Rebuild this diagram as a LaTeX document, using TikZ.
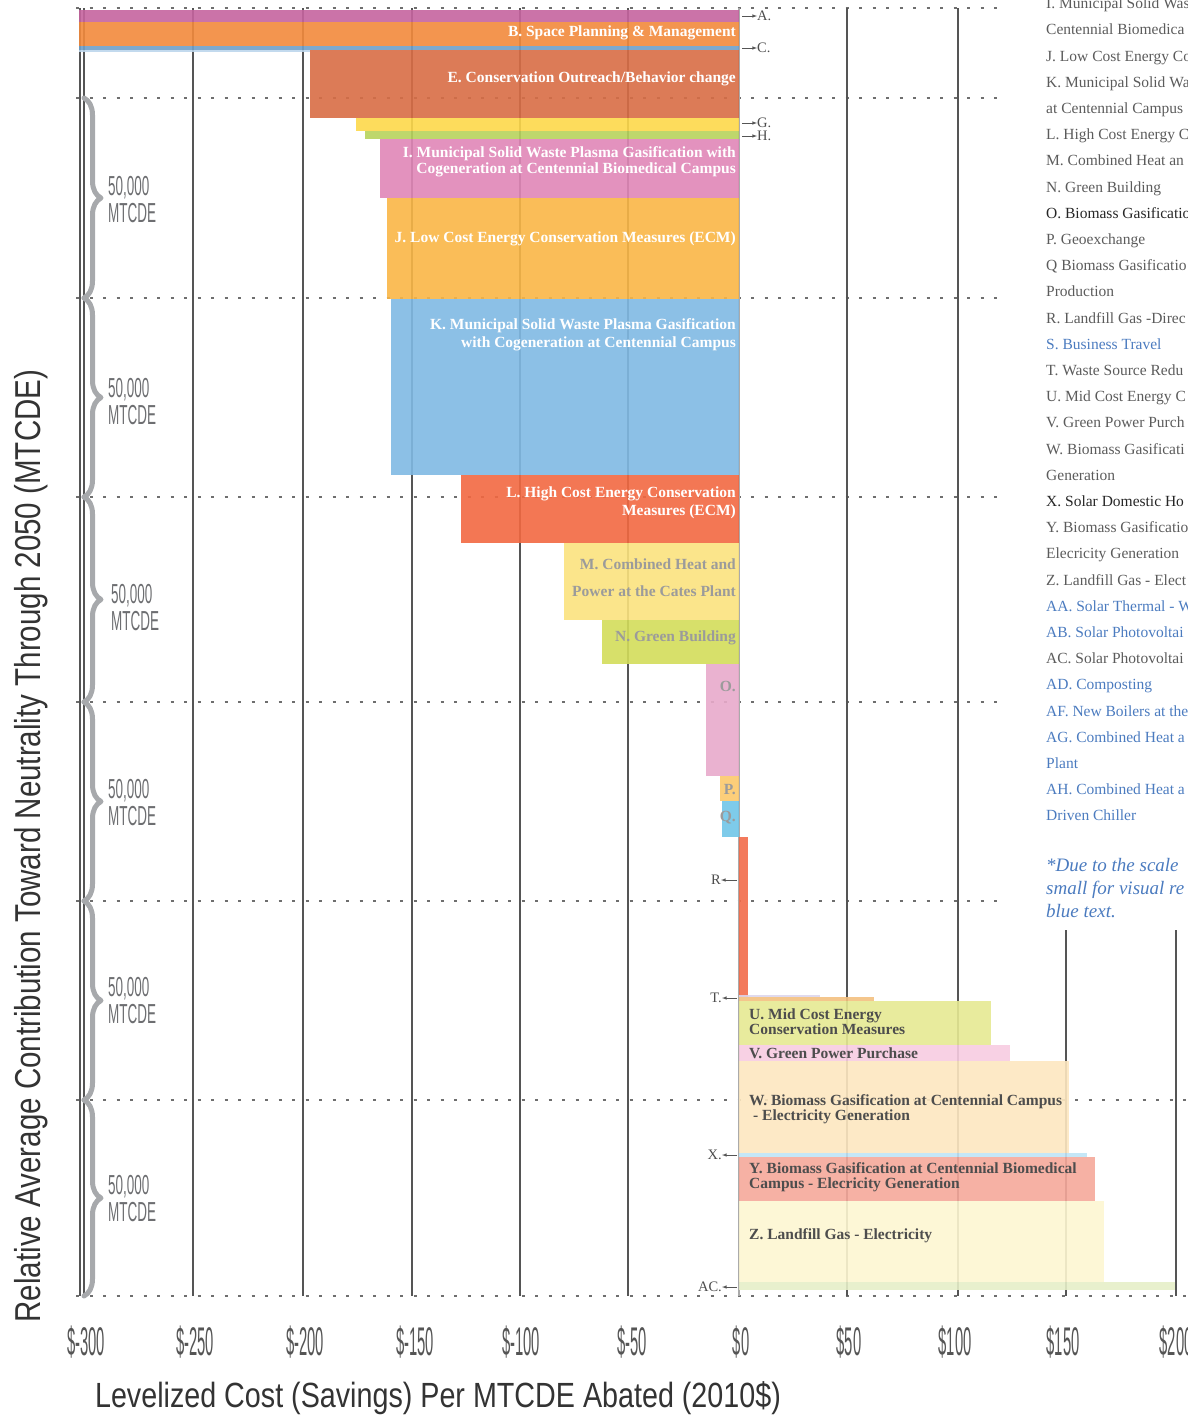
\documentclass[tikz,border=0pt]{standalone}
\usepackage{fontspec}
\usepackage{tikz}
\usetikzlibrary{decorations.pathreplacing}
\setmainfont{Liberation Serif}
\newfontfamily\etroite[FakeStretch=0.37]{Liberation Sans}
\newfontfamily\demietroite[FakeStretch=0.49]{Liberation Sans}
\newfontfamily\titrefont[FakeStretch=0.82]{Liberation Sans}

\definecolor{coulA}{HTML}{C5649F}
\definecolor{coulB}{HTML}{F28A3C}
\definecolor{coulC}{HTML}{6FA0C9}
\definecolor{coulD}{HTML}{BCD6EC}
\definecolor{coulE}{HTML}{D86D45}
\definecolor{coulG}{HTML}{FDD84A}
\definecolor{coulH}{HTML}{B7D35C}
\definecolor{coulI}{HTML}{E086B7}
\definecolor{coulJ}{HTML}{F9B646}
\definecolor{coulK}{HTML}{80B9E3}
\definecolor{coulL}{HTML}{F26841}
\definecolor{coulM}{HTML}{FBE27E}
\definecolor{coulN}{HTML}{D3DD5A}
\definecolor{coulO}{HTML}{E8AACB}
\definecolor{coulP}{HTML}{FCC96C}
\definecolor{coulQ}{HTML}{70C5E8}
\definecolor{coulR}{HTML}{F26C4A}
\definecolor{coulS}{HTML}{DDD6EC}
\definecolor{coulT}{HTML}{F3C07F}
\definecolor{coulU}{HTML}{E6E992}
\definecolor{coulV}{HTML}{F7CCE1}
\definecolor{coulW}{HTML}{FDE7C0}
\definecolor{coulX}{HTML}{BFE4F6}
\definecolor{coulY}{HTML}{F5A89A}
\definecolor{coulZ}{HTML}{FDF6D1}
\definecolor{coulAC}{HTML}{E6EEC8}
\definecolor{gris}{HTML}{555555}
\definecolor{grispale}{HTML}{9B9B9B}
\definecolor{grisfonce}{HTML}{4D4D4D}
\definecolor{grislegende}{HTML}{5B5B5B}
\definecolor{grisaccol}{HTML}{A7A9AC}
\definecolor{grisquant}{HTML}{6D6E71}
\definecolor{bleu}{HTML}{4B7BBF}
\definecolor{titre}{HTML}{333333}

\begin{document}
\begin{tikzpicture}[x=1pt, y=-1pt]
			\tikzset{barre/.style={fill opacity=0.9},
				grille/.style={draw=gris, line width=2pt},
				pointille/.style={draw=gris!85, line width=1.6pt, dash pattern=on 3pt off 10.5pt},
				accolade/.style={draw=grisaccol, line width=5pt, line cap=round, line join=round, decorate, decoration={brace, amplitude=17pt}},
				fleche/.style={>=latex, ->, draw=gris, line width=0.6pt},
				blanc/.style={font=\bfseries\fontsize{15.5}{16}\selectfont, text=white, anchor=east, align=right, inner sep=0pt},
				pale/.style={blanc, text=grispale},
				sombre/.style={font=\bfseries\fontsize{15.5}{15}\selectfont, text=grisfonce, anchor=west, align=left, inner sep=0pt},
				renvoi/.style={font=\fontsize{14.5}{15}\selectfont, text=grisfonce, inner sep=0pt},
				legende/.style={font=\fontsize{15.5}{16}\selectfont, text=grislegende, anchor=base west, inner sep=0pt},
				bleue/.style={legende, text=bleu},
				noire/.style={legende, text=black!85},
				note/.style={font=\itshape\fontsize{19}{19}\selectfont, text=bleu, anchor=base west, inner sep=0pt},
				graduation/.style={font=\etroite\fontsize{40}{40}\selectfont, text=gris, anchor=base, inner sep=0pt},
				quantite/.style={font=\demietroite\fontsize{27.5}{27}\selectfont, text=grisquant, anchor=west, align=left, inner sep=0pt}}

			\useasboundingbox (0,0) rectangle (1187,1416);

			\draw[pointille] (76,   8) -- (1005,   8);
			\draw[pointille] (76,  98) -- (1005,  98);
			\draw[pointille] (76, 298) -- (1005, 298);
			\draw[pointille] (76, 497) -- (1005, 497);
			\draw[pointille] (76, 702) -- (1005, 702);
			\draw[pointille] (76, 901) -- (1005, 901);
			\draw[pointille] (76,1100) -- (1187,1100);
			\draw[pointille] (76,1296) -- (1187,1296);

			\draw[grille] ( 193,   8) -- ( 193,1296);
			\draw[grille] ( 303,   8) -- ( 303,1296);
			\draw[grille] ( 412,   8) -- ( 412,1296);
			\draw[grille] ( 520,   8) -- ( 520,1296);
			\draw[grille] ( 628,   8) -- ( 628,1296);
			\draw[grille] ( 847,   8) -- ( 847,1296);
			\draw[grille] ( 958,   8) -- ( 958,1296);
			\draw[grille] (1066, 930) -- (1066,1296);
			\draw[grille] (1176, 930) -- (1176,1296);
			\draw[grille, draw=gris!50] (739, 8) -- (739,1296);
			\draw[grille, line width=1.5pt] (80, 8) -- (80,1296);
			\draw[grille, line width=1.5pt] (84, 8) -- (84,1296);

			\fill[barre, fill=coulA]  ( 79,  10) rectangle ( 739,  22);
			\fill[barre, fill=coulB]  ( 79,  22) rectangle ( 739,  46);
			\fill[barre, fill=coulC]  ( 79,  46) rectangle ( 739,  50);
			\fill[barre, fill=coulD]  ( 79,  50) rectangle ( 310,  52);
			\fill[barre, fill=coulE]  (310,  50) rectangle ( 739, 118);
			\fill[barre, fill=coulG]  (356, 118) rectangle ( 739, 131);
			\fill[barre, fill=coulH]  (365, 131) rectangle ( 739, 139);
			\fill[barre, fill=coulI]  (380, 139) rectangle ( 739, 198);
			\fill[barre, fill=coulJ]  (387, 198) rectangle ( 739, 299);
			\fill[barre, fill=coulK]  (391, 299) rectangle ( 739, 475);
			\fill[barre, fill=coulL]  (461, 475) rectangle ( 739, 543);
			\fill[barre, fill=coulM]  (564, 543) rectangle ( 739, 620);
			\fill[barre, fill=coulN]  (602, 620) rectangle ( 739, 664);
			\fill[barre, fill=coulO]  (706, 664) rectangle ( 739, 776);
			\fill[barre, fill=coulP]  (720, 776) rectangle ( 739, 801);
			\fill[barre, fill=coulQ]  (722, 801) rectangle ( 739, 837);
			\fill[barre, fill=coulR]  (739, 837) rectangle ( 748, 997);
			\fill[barre, fill=coulS]  (739, 995) rectangle ( 820, 997);
			\fill[barre, fill=coulT]  (739, 997) rectangle ( 874,1001);
			\fill[barre, fill=coulU]  (739,1001) rectangle ( 991,1045);
			\fill[barre, fill=coulV]  (739,1045) rectangle (1010,1061);
			\fill[barre, fill=coulW]  (739,1061) rectangle (1069,1153);
			\fill[barre, fill=coulX]  (739,1153) rectangle (1087,1157);
			\fill[barre, fill=coulY]  (739,1157) rectangle (1095,1201);
			\fill[barre, fill=coulZ]  (739,1201) rectangle (1104,1282);
			\fill[barre, fill=coulAC] (739,1282) rectangle (1175,1290);

			\node[blanc]  (eB) at (736,  33) {B. Space Planning \& Management};
			\node[blanc]  (eE) at (736,  79) {E. Conservation Outreach/Behavior change};
			\node[blanc]  (eI) at (736, 162) {I. Municipal Solid Waste Plasma Gasification with\\Cogeneration at Centennial Biomedical Campus};
			\node[blanc]  (eJ) at (736, 239) {J. Low Cost Energy Conservation Measures (ECM)};
			\node[blanc]  (eK) at (736, 335) {K. Municipal Solid Waste Plasma Gasification\\[2pt]with Cogeneration at Centennial Campus};
			\node[blanc]  (eL) at (736, 503) {L. High Cost Energy Conservation\\[2pt]Measures (ECM)};
			\node[pale]   (eM) at (736, 578) {M. Combined Heat and\\[11pt]Power at the Cates Plant};
			\node[pale]   (eN) at (736, 638) {N. Green Building};
			\node[pale]   (eO) at (736, 686) {O.};
			\node[pale]   (eP) at (736, 790) {P.};
			\node[pale]   (eQ) at (736, 818) {Q.};
			\node[sombre] (eU) at (749,1022) {U. Mid Cost Energy\\Conservation Measures};
			\node[sombre] (eV) at (749,1053) {V. Green Power Purchase};
			\node[sombre] (eW) at (749,1109) {W. Biomass Gasification at Centennial Campus\\\hspace*{4pt}- Electricity Generation};
			\node[sombre] (eY) at (749,1177) {Y. Biomass Gasification at Centennial Biomedical\\Campus - Elecricity Generation};
			\node[sombre] (eZ) at (749,1236) {Z. Landfill Gas - Electricity};

			\coordinate (bA)  at (742,  16);
			\coordinate (bC)  at (742,  48);
			\coordinate (bG)  at (742, 123);
			\coordinate (bH)  at (742, 136);
			\coordinate (bR)  at (737, 880);
			\coordinate (bT)  at (737, 998);
			\coordinate (bX)  at (737,1155);
			\coordinate (bAC) at (737,1287);
			\node[renvoi, anchor=west] (rA)  at (757,  16) {A.};
			\node[renvoi, anchor=west] (rC)  at (757,  48) {C.};
			\node[renvoi, anchor=west] (rG)  at (757, 123) {G.};
			\node[renvoi, anchor=west] (rH)  at (757, 136) {H.};
			\node[renvoi, anchor=east] (rR)  at (721, 880) {R};
			\node[renvoi, anchor=east] (rT)  at (722, 998) {T.};
			\node[renvoi, anchor=east] (rX)  at (722,1155) {X.};
			\node[renvoi, anchor=east] (rAC) at (722,1287) {AC.};
			\draw[fleche] (bA)  -- (rA);
			\draw[fleche] (bC)  -- (rC);
			\draw[fleche] (bG)  -- (rG);
			\draw[fleche] (bH)  -- (rH);
			\draw[fleche] (bR)  -- (rR);
			\draw[fleche] (bT)  -- (rT);
			\draw[fleche] (bX)  -- (rX);
			\draw[fleche] (bAC) -- (rAC);

			\draw[accolade] (84,  98) -- (84, 298);
			\draw[accolade] (84, 298) -- (84, 497);
			\draw[accolade] (84, 497) -- (84, 702);
			\draw[accolade] (84, 702) -- (84, 901);
			\draw[accolade] (84, 901) -- (84,1100);
			\draw[accolade] (84,1100) -- (84,1296);
			\node[quantite] (q1) at (108, 200) {50,000\\MTCDE};
			\node[quantite] (q2) at (108, 402) {50,000\\MTCDE};
			\node[quantite] (q3) at (111, 608) {50,000\\MTCDE};
			\node[quantite] (q4) at (108, 803) {50,000\\MTCDE};
			\node[quantite] (q5) at (108,1001) {50,000\\MTCDE};
			\node[quantite] (q6) at (108,1199) {50,000\\MTCDE};

			\node[graduation] (g1)  at (  86,1355) {\$-300};
			\node[graduation] (g2)  at ( 195,1355) {\$-250};
			\node[graduation] (g3)  at ( 305,1355) {\$-200};
			\node[graduation] (g4)  at ( 415,1355) {\$-150};
			\node[graduation] (g5)  at ( 521,1355) {\$-100};
			\node[graduation] (g6)  at ( 632,1355) {\$-50};
			\node[graduation] (g7)  at ( 741,1355) {\$0};
			\node[graduation] (g8)  at ( 849,1355) {\$50};
			\node[graduation] (g9)  at ( 955,1355) {\$100};
			\node[graduation] (g10) at (1063,1355) {\$150};
			\node[graduation] (g11) at (1176,1355) {\$200};

			\node[font=\titrefont\fontsize{36}{36}\selectfont, text=titre, rotate=90, anchor=base, inner sep=0pt] (ty) at (40,846) {Relative Average Contribution Toward Neutrality Through 2050 (MTCDE)};
			\node[font=\titrefont\fontsize{35}{35}\selectfont, text=titre, anchor=base, inner sep=0pt] (tx) at (438,1407) {Levelized Cost (Savings) Per MTCDE Abated (2010\$)};

			\begin{scope}
				\clip (1040,0) rectangle (1187,930);
				\node[legende] (l1)  at (1046,  8.6) {I. Municipal Solid Was};
				\node[legende] (l2)  at (1046, 34.8) {Centennial Biomedica};
				\node[legende] (l3)  at (1046, 61.0) {J. Low Cost Energy Co};
				\node[legende] (l4)  at (1046, 87.2) {K. Municipal Solid Wa};
				\node[legende] (l5)  at (1046,113.4) {at Centennial Campus};
				\node[legende] (l6)  at (1046,139.6) {L. High Cost Energy C};
				\node[legende] (l7)  at (1046,165.8) {M. Combined Heat an};
				\node[legende] (l8)  at (1046,192.0) {N. Green Building};
				\node[noire]   (l9)  at (1046,218.2) {O. Biomass Gasificatio};
				\node[legende] (l10) at (1046,244.4) {P. Geoexchange};
				\node[legende] (l11) at (1046,270.6) {Q Biomass Gasificatio};
				\node[legende] (l12) at (1046,296.8) {Production};
				\node[legende] (l13) at (1046,323.0) {R. Landfill Gas -Direc};
				\node[bleue]   (l14) at (1046,349.2) {S. Business Travel};
				\node[legende] (l15) at (1046,375.4) {T. Waste Source Redu};
				\node[legende] (l16) at (1046,401.6) {U. Mid Cost Energy C};
				\node[legende] (l17) at (1046,427.8) {V. Green Power Purch};
				\node[legende] (l18) at (1046,454.0) {W. Biomass Gasificati};
				\node[legende] (l19) at (1046,480.2) {Generation};
				\node[noire]   (l20) at (1046,506.4) {X. Solar Domestic Ho};
				\node[legende] (l21) at (1046,532.6) {Y. Biomass Gasificatio};
				\node[legende] (l22) at (1046,558.8) {Elecricity Generation};
				\node[legende] (l23) at (1046,585.0) {Z. Landfill Gas - Elect};
				\node[bleue]   (l24) at (1046,611.2) {AA. Solar Thermal - W};
				\node[bleue]   (l25) at (1046,637.4) {AB. Solar Photovoltai};
				\node[legende] (l26) at (1046,663.6) {AC. Solar Photovoltai};
				\node[bleue]   (l27) at (1046,689.8) {AD. Composting};
				\node[bleue]   (l28) at (1046,716.0) {AF. New Boilers at the};
				\node[bleue]   (l29) at (1046,742.2) {AG. Combined Heat a};
				\node[bleue]   (l30) at (1046,768.4) {Plant};
				\node[bleue]   (l31) at (1046,794.6) {AH. Combined Heat a};
				\node[bleue]   (l32) at (1046,820.8) {Driven Chiller};
				\node[note]    (n1)  at (1046,871) {*Due to the scale};
				\node[note]    (n2)  at (1046,894) {small for visual re};
				\node[note]    (n3)  at (1046,917) {blue text.};
			\end{scope}

		\end{tikzpicture}
\end{document}
